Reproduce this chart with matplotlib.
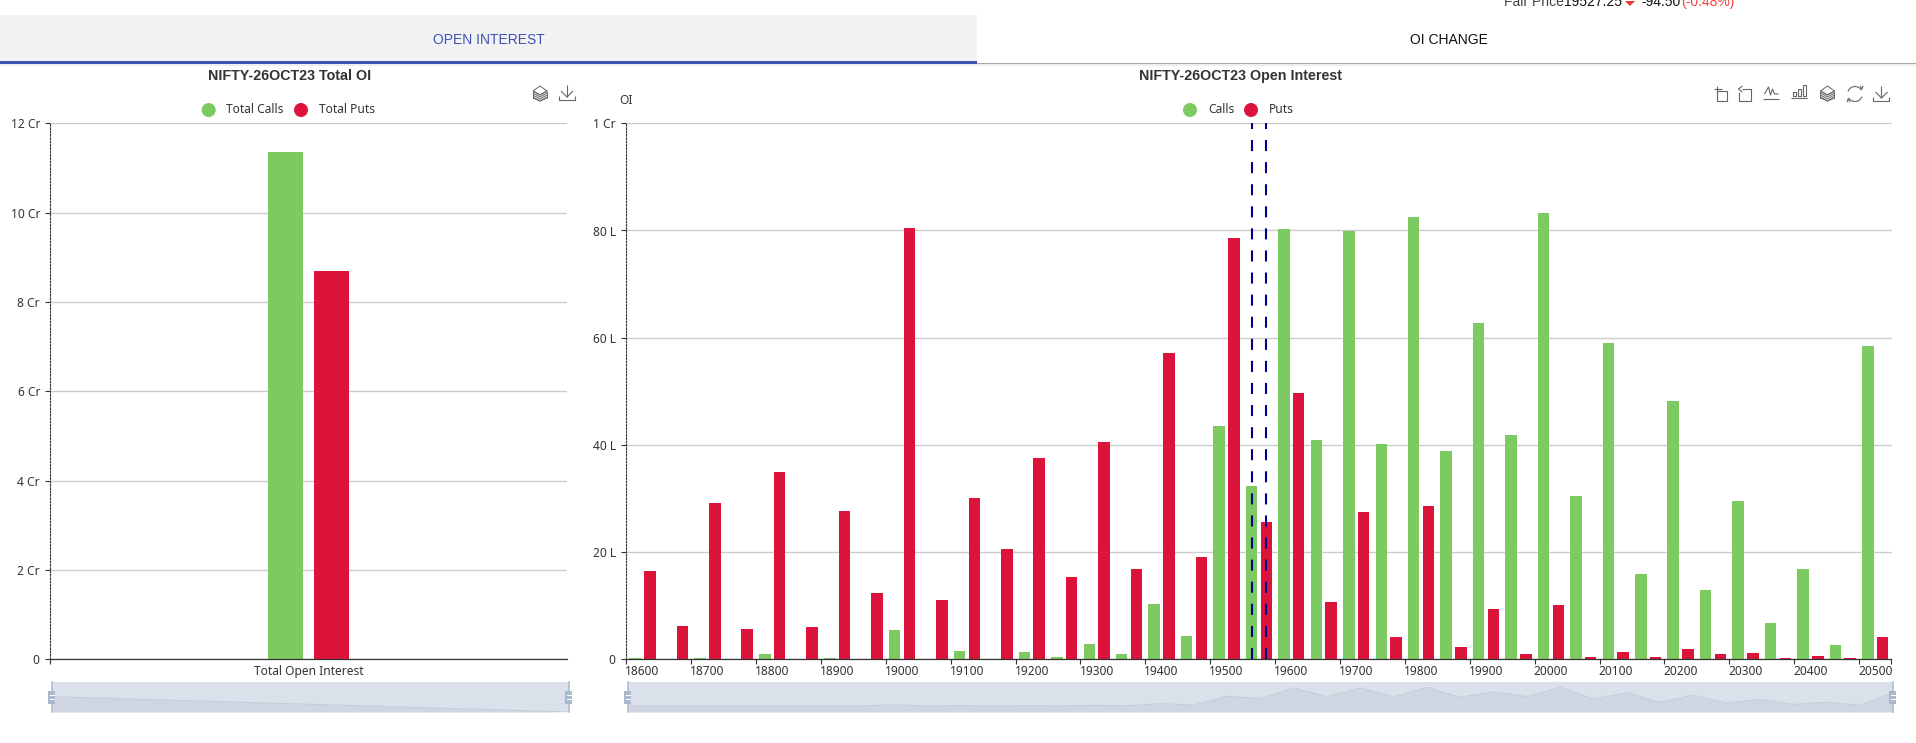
import matplotlib
matplotlib.use('Agg')
import matplotlib.pyplot as plt
from matplotlib.patches import Rectangle, Ellipse, Polygon, Arc

W, H = 1916, 743
FONT = 'Noto Sans'
HEAD = 'Liberation Sans'
GREEN = '#7dc962'
RED = '#dc143c'
GREY_TXT = '#333333'
PLOT_TOP, PLOT_BOT = 123.3, 659.3
SL_TOP, SL_BOT = 682.3, 712

# strikes, values in lakh
strikes = list(range(18600, 20501, 50))
calls = [0.3, 0.0, 0.2, 0.0, 0.9, 0.1, 0.2, 0.1, 5.4, 0.1, 1.6, 0.1, 1.4, 0.5,
         2.9, 1.0, 10.4, 4.3, 43.6, 32.3, 80.3, 41.0, 79.9, 40.2, 82.6, 38.8,
         62.7, 41.8, 83.3, 30.5, 59.0, 15.9, 48.1, 13.0, 29.5, 6.8, 16.8, 2.6, 58.4]
puts = [16.4, 6.25, 29.2, 5.7, 35.0, 6.1, 27.6, 12.4, 80.4, 11.1, 30.1, 20.6, 37.5,
        15.4, 40.6, 16.8, 57.2, 19.0, 78.6, 25.7, 49.7, 10.7, 27.4, 4.2, 28.6, 2.3,
        9.4, 1.0, 10.2, 0.35, 1.4, 0.35, 2.0, 1.0, 1.2, 0.3, 0.7, 0.2, 4.1]
atm_strike = 19550

# totals in crore
total_calls = 11.35
total_puts = 8.7
total_shadow = [0.515, 0.0]

left_ticks = [0, 2, 4, 6, 8, 10, 12]
left_labels = ['0 ', '2 Cr ', '4 Cr ', '6 Cr ', '8 Cr ', '10 Cr ', '12 Cr ']
right_ticks = [0, 20, 40, 60, 80, 100]
right_labels = ['0 ', '20 L ', '40 L ', '60 L ', '80 L ', '1 Cr ']


def rect(x0, y0, x1, y1):
    return [x0 / W, 1 - y1 / H, (x1 - x0) / W, (y1 - y0) / H]


fig = plt.figure(figsize=(W / 100, H / 100), dpi=100)

# overlay in pixel coordinates for tabs, legends, toolbars
ov = fig.add_axes([0, 0, 1, 1])
ov.set_xlim(0, W)
ov.set_ylim(H, 0)
ov.axis('off')

# tabs
ov.add_patch(Rectangle((0, 64), W, 2, color='#eeeeee', lw=0))
ov.add_patch(Rectangle((0, 15), 977, 46, color='#f2f2f2', lw=0))
ov.add_patch(Rectangle((977, 62.5), W - 977, 1.8, color='#a8a8a8', lw=0))
ov.add_patch(Rectangle((0, 61), 977, 3, color='#3f51b5', lw=0))
ov.text(489, 39.5, 'OPEN INTEREST', color='#3f51b5', fontsize=10, family=HEAD, ha='center', va='center')
ov.text(1448.5, 39.5, 'OI CHANGE', color='#111111', fontsize=10, family=HEAD, ha='center', va='center')

# fair price line, cut by the top of the page
ov.text(1504, 6, 'Fair Price', color='#444444', fontsize=10, family=HEAD, va='baseline')
ov.text(1564, 6, '19527.25', color='#111111', fontsize=10, family=HEAD, va='baseline')
ov.add_patch(Polygon([(1625, 1), (1635, 1), (1630, 6)], color='#e53935', lw=0))
ov.text(1641, 6, '-94.50', color='#111111', fontsize=10, family=HEAD, va='baseline')
ov.text(1681, 6, '(-0.48%)', color='#f44336', fontsize=10, family=HEAD, va='baseline')

# titles
ov.text(290, 76, 'NIFTY-26OCT23 Total OI', color=GREY_TXT, fontsize=10.3, family=HEAD,
        fontweight='bold', ha='center', va='center')
ov.text(1241, 76, 'NIFTY-26OCT23 Open Interest', color=GREY_TXT, fontsize=10.3, family=HEAD,
        fontweight='bold', ha='center', va='center')
ov.text(626, 100.5, 'OI', color=GREY_TXT, fontsize=8.6, family=FONT, ha='center', va='center')


# legends
def legend_item(cx, tx, label, color):
    ov.add_patch(Ellipse((cx, 110), 14, 14, color=color, lw=0))
    ov.text(tx, 109.5, label, color=GREY_TXT, fontsize=8.6, family=FONT, va='center')


legend_item(208.7, 226.5, 'Total Calls', GREEN)
legend_item(301, 319, 'Total Puts', RED)
legend_item(1190, 1208, 'Calls', GREEN)
legend_item(1251, 1269, 'Puts', RED)


# toolbar icons
ICON = '#666666'


def stroke(xs, ys, x0=0, y0=0, lw=0.8):
    ov.plot([x + x0 for x in xs], [y + y0 for y in ys], color=ICON, lw=lw, solid_capstyle='butt')


def icon_stack(cx, cy):
    for dy in (-1, 1, 3, 5):
        stroke([-7, 0, 7], [0, 4, 0], cx, cy + dy - 1, lw=0.7)
    stroke([-7, 0, 7, 0, -7], [-2, -7, -2, 2, -2], cx, cy, lw=0.7)
    stroke([-7, -7], [-2, 5], cx, cy, lw=0.7)
    stroke([7, 7], [-2, 5], cx, cy, lw=0.7)
    stroke([-7, 0, 7], [5, 8, 5], cx, cy, lw=0.7)


def icon_save(cx, cy):
    stroke([0, 0], [-8, 4], cx, cy)
    stroke([-6, 0, 6], [-2, 4, -2], cx, cy)
    stroke([-8, -8, 8, 8], [3, 7, 7, 3], cx, cy)


def icon_zoom(cx, cy):
    stroke([-4, 6, 6, -4, -4], [-3, -3, 7, 7, -3], cx, cy)
    stroke([-7, 1], [-5, -5], cx, cy)
    stroke([-4, -4], [-8, 0], cx, cy)


def icon_back(cx, cy):
    stroke([-3, 6, 6, -6, -6], [-5, -5, 7, 7, -2], cx, cy)
    stroke([-3, -7, -3], [-8, -5, -2], cx, cy)


def icon_line(cx, cy):
    stroke([-7, -3, -1, 1, 3, 7], [1, -6, 2, -4, 1, 1], cx, cy)
    stroke([-8, 8], [6, 6], cx, cy)


def icon_bar(cx, cy):
    for x0, top in ((-6, 0), (-1, -3), (4, -7)):
        stroke([x0, x0, x0 + 3, x0 + 3, x0], [4, top, top, 4, 4], cx, cy)
    stroke([-8, 8], [6, 6], cx, cy)


def icon_refresh(cx, cy):
    ov.add_patch(Arc((cx, cy), 15, 15, theta1=200, theta2=330, color=ICON, lw=0.8))
    ov.add_patch(Arc((cx, cy), 15, 15, theta1=20, theta2=150, color=ICON, lw=0.8))
    stroke([5, 7, 8], [-8, -5, -8], cx, cy)
    stroke([-8, -7, -5], [8, 5, 8], cx, cy)


icon_stack(540, 93)
icon_save(567, 93)
icon_zoom(1721, 94)
icon_back(1745.5, 94)
icon_line(1771.5, 93)
icon_bar(1799.5, 92)
icon_stack(1827.5, 93)
icon_refresh(1855, 94)
icon_save(1881.5, 94)


def style_axis(ax, ticks, labels):
    ax.set_ylim(0, ticks[-1])
    ax.set_yticks(ticks)
    ax.set_yticklabels(labels)
    ax.grid(axis='y', color='#cccccc', lw=1)
    ax.set_axisbelow(True)
    for side in ('top', 'right'):
        ax.spines[side].set_visible(False)
    ax.spines['left'].set_linestyle((0, (1.5, 1.5)))
    ax.spines['left'].set_color(GREY_TXT)
    ax.spines['left'].set_linewidth(0.8)
    ax.spines['bottom'].set_color(GREY_TXT)
    ax.spines['bottom'].set_linewidth(0.9)
    ax.tick_params(axis='y', length=3.6, width=0.8, color=GREY_TXT, pad=1.5,
                   labelsize=8.6, labelcolor=GREY_TXT)
    ax.tick_params(axis='x', length=3.6, width=0.8, color=GREY_TXT, pad=4,
                   labelsize=8.6, labelcolor=GREY_TXT)
    for lab in ax.get_xticklabels() + ax.get_yticklabels():
        lab.set_family(FONT)
    ax.patch.set_alpha(0)


# left chart
ax1 = fig.add_axes(rect(50.3, PLOT_TOP, 566.5, PLOT_BOT))
ax1.bar([-0.044], [total_calls], width=0.068, color=GREEN)
ax1.bar([0.044], [total_puts], width=0.068, color=RED)
ax1.set_xlim(-0.5, 0.5)
ax1.set_xticks([-0.5])
ax1.set_xticklabels([''])
style_axis(ax1, left_ticks, left_labels)
ax1.text(0, -0.0235, 'Total Open Interest', transform=ax1.get_xaxis_transform(),
         color=GREY_TXT, fontsize=8.6, family=FONT, ha='center', va='center')

# right chart
idx = list(range(len(strikes)))
off = 0.228
bw = 0.355
ax2 = fig.add_axes(rect(626.3, PLOT_TOP, 1891.5, PLOT_BOT))
ax2.bar([i - off for i in idx], calls, width=bw, color=GREEN)
ax2.bar([i + off for i in idx], puts, width=bw, color=RED)
ax2.set_xlim(-0.5, len(strikes) - 0.5)
style_axis(ax2, right_ticks, right_labels)

# ticks sit on the band edges, labels in the band middle
even = idx[::2]
ax2.set_xticks([i - 0.5 for i in even] + [len(strikes) - 0.5])
ax2.set_xticklabels([''] * (len(even) + 1))
for i in even:
    ax2.text(i, -0.0235, str(strikes[i]), transform=ax2.get_xaxis_transform(), color=GREY_TXT,
             fontsize=8.6, family=FONT, ha='center', va='center')

atm = strikes.index(atm_strike)
for x in (atm - off, atm + off):
    ax2.plot([x, x], [0, 100], color='#00008b', lw=1.5, linestyle=(0, (5.3, 5.3)), zorder=5)


# dataZoom sliders
def slider(x0, x1, xs, ys, ylim):
    ax = fig.add_axes(rect(x0, SL_TOP, x1, SL_BOT))
    ax.set_facecolor('#dbe1ea')
    ax.fill_between(xs, ys, ylim[0], color='#cfd6e1', lw=0)
    ax.plot(xs, ys, color='#c6cdd9', lw=0.8)
    ax.set_xlim(xs[0], xs[-1])
    ax.set_ylim(*ylim)
    ax.set_xticks([])
    ax.set_yticks([])
    for s in ax.spines.values():
        s.set_visible(False)
    for px in (x0, x1):
        ov.plot([px, px], [SL_TOP, SL_BOT], color='#acbacd', lw=1.1)
        ov.add_patch(Rectangle((px - 3.5, 690.5), 7, 13, color='#aab8cd', lw=0, zorder=6))
        ov.plot([px - 2, px + 2], [695, 695], color='white', lw=0.8, zorder=7)
        ov.plot([px - 2, px + 2], [699, 699], color='white', lw=0.8, zorder=7)


slider(52, 569, [0, 1], total_shadow, (0, 1))
slider(628, 1893, idx, calls, (-26.7, 105.6))
ov.set_zorder(10)

fig.savefig('out.png', dpi=100)
